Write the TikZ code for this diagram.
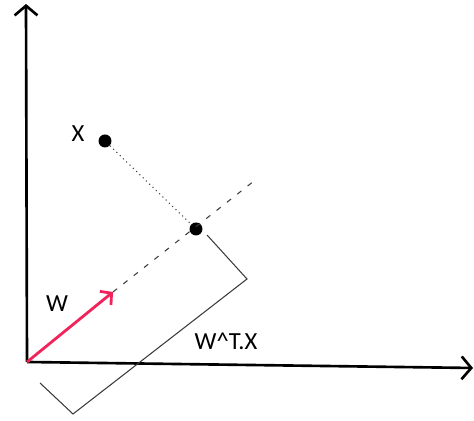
\documentclass[tikz,border=0pt]{standalone}
\usepackage{fontspec}
\setmainfont{Carlito}
\usetikzlibrary{arrows.meta}
\definecolor{WRed}{HTML}{F0245A}
\definecolor{LineGrey}{HTML}{3A3A3A}

\begin{document}
\begin{tikzpicture}[x=0.02cm, y=0.02cm, every node/.style={font=\fontsize{14}{16}\selectfont}]
  \useasboundingbox (0,0) rectangle (474,421);
  % axes
  \coordinate (o) at (27,59);
  \coordinate (ytop) at (26,417);
  \coordinate (xend) at (473,53);
  \draw[line width=1.5pt, -{Straight Barb[length=5.5pt, width=13pt]}] (o) -- (ytop);
  \draw[line width=1.5pt, -{Straight Barb[length=5.5pt, width=13pt]}] (o) -- (xend);
  % points
  \node[circle, fill=black, inner sep=0pt, minimum size=0.26cm] (x) at (105,280) {};
  \node[circle, fill=black, inner sep=0pt, minimum size=0.26cm] (p) at (196,192) {};
  \coordinate (w) at (113,129);
  \coordinate (wend) at (254,240);
  \draw[LineGrey, line width=0.6pt, dash pattern=on 3pt off 4.5pt] (w) -- (wend);
  \draw[LineGrey, line width=0.6pt, dotted] (x) -- (p);
  \draw[WRed, line width=1.6pt, -{Straight Barb[length=4.5pt, width=10pt]}] (o) -- (w);
  % bracket
  \coordinate (b1) at (207,186);
  \coordinate (b2) at (247,142);
  \coordinate (b3) at (73,7);
  \coordinate (b4) at (40,38);
  \draw[LineGrey, line width=0.6pt] (b1) -- (b2) -- (b3) -- (b4);
  % labels
  \node (xlabel) at (78,287) {X};
  \node (wlabel) at (57,117) {W};
  \node (plabel) at (226,80) {W\^{}T.X};
\end{tikzpicture}
\end{document}
